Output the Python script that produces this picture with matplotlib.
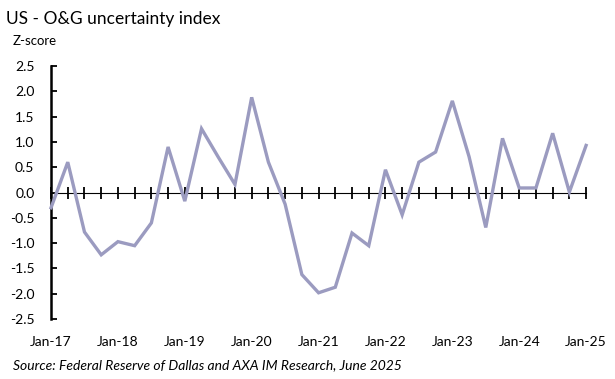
import matplotlib.pyplot as plt

plt.rcParams['font.family'] = ['Lato', 'DejaVu Sans']

# quarterly z-score, Jan-17 .. Jan-25
quarters = list(range(33))
zscore = [-0.30, 0.60, -0.78, -1.23, -0.97, -1.05, -0.60, 0.90,
          -0.17, 1.26, 0.70, 0.16, 1.88, 0.60, -0.23, -1.62,
          -1.98, -1.87, -0.80, -1.05, 0.45, -0.44, 0.60, 0.80,
          1.81, 0.71, -0.69, 1.07, 0.09, 0.09, 1.17, 0.01, 0.93]
year_pos = [0, 4, 8, 12, 16, 20, 24, 28, 32]
year_labels = ['Jan-17', 'Jan-18', 'Jan-19', 'Jan-20', 'Jan-21',
               'Jan-22', 'Jan-23', 'Jan-24', 'Jan-25']
yticks = [-2.5, -2.0, -1.5, -1.0, -0.5, 0.0, 0.5, 1.0, 1.5, 2.0, 2.5]

fig = plt.figure(figsize=(6.15, 3.79), dpi=100)
ax = fig.add_axes([0.083, 0.158, 0.870, 0.668])

ax.plot(quarters, zscore, color='#9b9bc0', lw=2.4, solid_joinstyle='miter',
        zorder=3, clip_on=False)

ax.set_xlim(0, 32)
ax.set_ylim(-2.5, 2.5)
ax.set_yticks(yticks)
ax.set_yticklabels([f'{v:.1f}' for v in yticks], fontsize=10)
ax.tick_params(axis='y', direction='in', length=4, width=1.3, pad=12)

for s in ['top', 'right', 'bottom']:
    ax.spines[s].set_visible(False)
ax.spines['left'].set_linewidth(1.8)

# year labels at the bottom
ax.set_xticks(year_pos)
ax.set_xticklabels(year_labels, fontsize=10)
ax.tick_params(axis='x', length=0, pad=12)

# zero line with quarterly ticks
sec = ax.secondary_xaxis(0.5)
sec.set_xticks(quarters)
sec.set_xticklabels([])
sec.tick_params(direction='inout', length=8, width=1.3)
sec.spines['bottom'].set_linewidth(1.8)

fig.text(0.010, 0.950, 'US - O&G uncertainty index', fontsize=12.5, va='center')
fig.text(0.021, 0.893, 'Z-score', fontsize=9.5, va='center')
fig.text(0.021, 0.037, 'Source: Federal Reserve of Dallas and AXA IM Research, June 2025',
         fontsize=10, style='italic', va='center')

plt.savefig('out.png', dpi=100)
